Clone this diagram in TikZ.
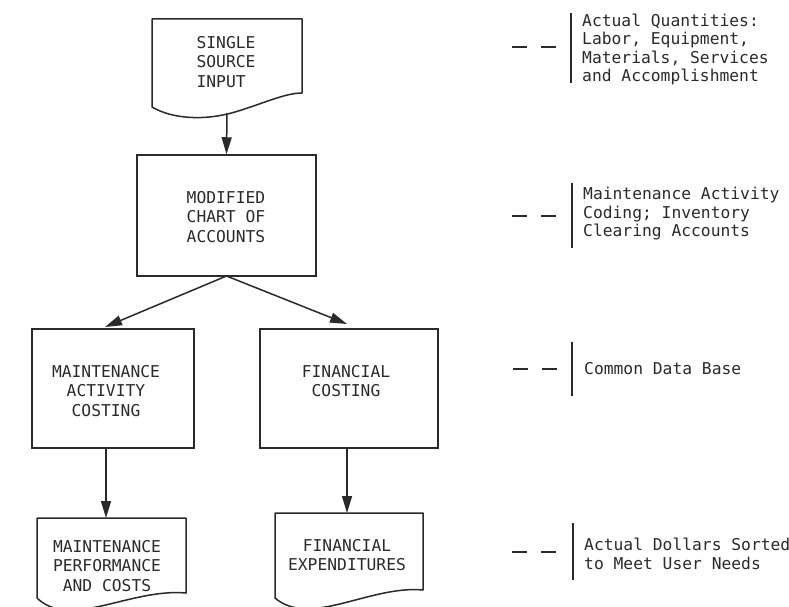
\documentclass[tikz,border=0pt]{standalone}
\usepackage{fontspec}
\newfontfamily\typew{DejaVu Sans Mono}
\usetikzlibrary{arrows.meta}
\definecolor{ink}{HTML}{2A2A2A}
\tikzset{
  boxline/.style={draw=ink, line width=1.5pt},
  boxnode/.style={boxline, rectangle, inner sep=0pt},
  txt/.style={text=ink, inner sep=0pt, font=\typew\fontsize{16.3}{19.5}\selectfont},
  note/.style={text=ink, inner sep=0pt, anchor=west, align=left, font=\typew\fontsize{16.3}{18.5}\selectfont},
  flow/.style={draw=ink, line width=1.5pt, -{Triangle[length=17pt,width=10pt]}},
  dashpair/.style={draw=ink, line width=2pt, dash pattern=on 15pt off 14pt},
  bar/.style={draw=ink, line width=2pt}
}
\begin{document}
\begin{tikzpicture}[x=1pt,y=-1pt]
\path[use as bounding box] (0,0) rectangle (789,607);
\clip (0,0) rectangle (789,607);
\fill[white] (0,0) rectangle (789,607);

% top document shape
\draw[boxline, line join=round] (152,19) -- (302,19) -- (302,93)
  .. controls (285,93) and (262,104) .. (235,112)
  .. controls (205,121) and (172,119) .. (152,107) -- cycle;
\node[txt, align=left] (srcT) at (226,62) {SINGLE\\SOURCE\\INPUT};
\coordinate (srcbot) at (227,113);

% chart of accounts
\node[boxnode, minimum width=179pt, minimum height=121pt] (chart) at (226.5,215.5) {};
\node[txt, align=center] (chartT) at (226,217) {MODIFIED\\CHART OF\\ACCOUNTS};

% costing boxes
\node[boxnode, minimum width=162pt, minimum height=119pt] (mac) at (113,388.5) {};
\node[txt, align=center] (macT) at (106,391) {MAINTENANCE\\ACTIVITY\\COSTING};
\node[boxnode, minimum width=178pt, minimum height=119pt] (fin) at (349,388.5) {};
\node[txt, align=center] (finT) at (346,381) {FINANCIAL\\COSTING};

% bottom documents
\draw[boxline, line join=round] (37,518) -- (186,518) -- (186,593)
  .. controls (130,588) and (70,630) .. (37,598) -- cycle;
\node[txt, align=center] (mpcT) at (107,566) {MAINTENANCE\\PERFORMANCE\\AND COSTS};
\draw[boxline, line join=round] (275,513) -- (423,513) -- (423,590)
  .. controls (370,585) and (310,628) .. (275,598) -- cycle;
\node[txt, align=center] (fexT) at (347,555) {FINANCIAL\\EXPENDITURES};

% connector coordinates
\coordinate (apex) at (226.5,276);
\coordinate (mactip) at (105,327);
\coordinate (fintip) at (347,324);
\coordinate (macbot) at (106,448);
\coordinate (mpctop) at (106,518);
\coordinate (finbot) at (347,448);
\coordinate (fextop) at (347,513);

\draw[flow] (srcbot) -- (chart.north);
\draw[flow] (apex) -- (mactip);
\draw[flow] (apex) -- (fintip);
\draw[flow] (macbot) -- (mpctop);
\draw[flow] (finbot) -- (fextop);

% annotations
\coordinate (d1a) at (512,47);  \coordinate (d1b) at (558,47);
\coordinate (b1a) at (571,13);  \coordinate (b1b) at (571,83);
\draw[dashpair] (d1a) -- (d1b);
\draw[bar] (b1a) -- (b1b);
\node[note] (n1) at (582,49.5) {Actual Quantities:\\Labor, Equipment,\\Materials, Services\\and Accomplishment};

\coordinate (d2a) at (512,216); \coordinate (d2b) at (558,216);
\coordinate (b2a) at (572,183); \coordinate (b2b) at (572,248);
\draw[dashpair] (d2a) -- (d2b);
\draw[bar] (b2a) -- (b2b);
\node[note] (n2) at (583,214) {Maintenance Activity\\Coding; Inventory\\Clearing Accounts};

\coordinate (d3a) at (513,369); \coordinate (d3b) at (559,369);
\coordinate (b3a) at (572,342); \coordinate (b3b) at (572,396);
\draw[dashpair] (d3a) -- (d3b);
\draw[bar] (b3a) -- (b3b);
\node[note] (n3) at (584,369) {Common Data Base};

\coordinate (d4a) at (512,552); \coordinate (d4b) at (558,552);
\coordinate (b4a) at (573,523); \coordinate (b4b) at (573,580);
\draw[dashpair] (d4a) -- (d4b);
\draw[bar] (b4a) -- (b4b);
\node[note] (n4) at (584,554) {Actual Dollars Sorted\\to Meet User Needs};
\end{tikzpicture}
\end{document}
